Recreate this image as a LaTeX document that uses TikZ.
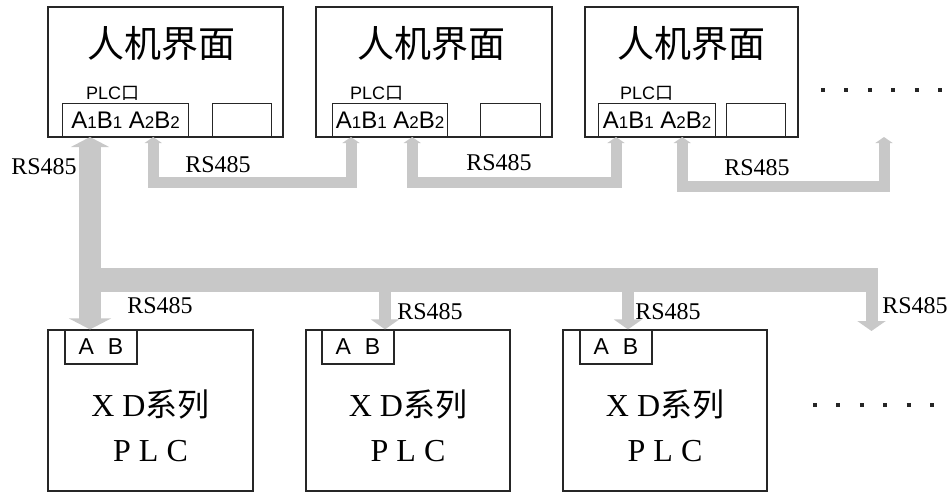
\documentclass[tikz,border=0pt]{standalone}
\usepackage{fontspec}
\setmainfont{Liberation Serif}
\newfontfamily\cjk{Noto Sans CJK SC}
\newfontfamily\arial{Liberation Sans}
\usetikzlibrary{arrows.meta, positioning}
\definecolor{buscol}{RGB}{200,200,200}
\newcommand{\portno}[1]{{\fontsize{17pt}{17pt}\selectfont #1}}

\begin{document}
\begin{tikzpicture}[
  x=1pt, y=-1pt,
  hmi/.style={rectangle, draw=black!85, line width=1.2pt, minimum width=#1, minimum height=130pt, inner sep=0pt},
  port/.style={rectangle, draw=black!85, line width=1.2pt, minimum width=#1, minimum height=33pt, inner sep=0pt, font=\arial\fontsize{24pt}{24pt}\selectfont},
  spare/.style={rectangle, draw=black!85, line width=1.2pt, minimum width=#1, minimum height=33pt, inner sep=0pt},
  plc/.style={rectangle, draw=black!85, line width=1.2pt, minimum width=#1, minimum height=161pt, inner sep=0pt},
  abbox/.style={rectangle, draw=black!85, line width=1.2pt, minimum width=72pt, minimum height=34pt, inner sep=0pt, font=\arial\fontsize{23pt}{23pt}\selectfont},
  title/.style={inner sep=0pt, font=\cjk\fontsize{37pt}{37pt}\selectfont},
  plcport/.style={inner sep=0pt, font=\arial\fontsize{18pt}{18pt}\selectfont},
  plctext/.style={inner sep=0pt, align=center, font=\fontsize{32pt}{45pt}\selectfont},
  rs/.style={inner sep=0pt, font=\fontsize{24pt}{24pt}\selectfont},
  trunk/.style={draw=buscol, line width=22pt, {Triangle[width=38pt,length=10pt]}-{Triangle[width=42pt,length=11pt]}},
  busline/.style={draw=buscol, line width=24pt},
  drop/.style={draw=buscol, line width=12pt, -{Triangle[width=28pt,length=10pt]}},
  link/.style={draw=buscol, line width=11pt, {Triangle[width=17pt,length=6pt]}-{Triangle[width=17pt,length=6pt]}},
  dotrow/.style={draw=black!85, line width=4pt, dash pattern=on 4pt off 19.4pt}
]
  \useasboundingbox (0,0) rectangle (951,493);

  % HMI panels
  \node[hmi=235pt] (hmi1) at (165.5,72) {};
  \node[hmi=236pt] (hmi2) at (434,72) {};
  \node[hmi=213pt] (hmi3) at (691.5,72) {};
  \node[title] (t1) at (161,44) {人机界面};
  \node[title] (t2) at (431,44) {人机界面};
  \node[title] (t3) at (691,44) {人机界面};
  \node[plcport, anchor=west] (l1) at (86,93) {PLC{\cjk 口}};
  \node[plcport, anchor=west] (l2) at (350,93) {PLC{\cjk 口}};
  \node[plcport, anchor=west] (l3) at (620,93) {PLC{\cjk 口}};
  \node[port=126pt, anchor=south west] (p1) at (62,137) {A\portno{1}B\portno{1} A\portno{2}B\portno{2}};
  \node[port=115pt, anchor=south west] (p2) at (332,137) {A\portno{1}B\portno{1} A\portno{2}B\portno{2}};
  \node[port=117pt, anchor=south west] (p3) at (598,137) {A\portno{1}B\portno{1} A\portno{2}B\portno{2}};
  \node[spare=59pt, anchor=south west] (s1) at (212,137) {};
  \node[spare=60pt, anchor=south west] (s2) at (480,137) {};
  \node[spare=59pt, anchor=south west] (s3) at (726,137) {};

  % PLC units
  \node[plc=205pt] (plc1) at (150.5,410.5) {};
  \node[plc=204pt] (plc2) at (408,410.5) {};
  \node[plc=204pt] (plc3) at (665,410.5) {};
  \node[abbox, anchor=north west, xshift=17pt] (ab1) at (plc1.north west) {A\hspace{14pt}B};
  \node[abbox, anchor=north west, xshift=16pt] (ab2) at (plc2.north west) {A\hspace{14pt}B};
  \node[abbox, anchor=north west, xshift=17pt] (ab3) at (plc3.north west) {A\hspace{14pt}B};
  \node[plctext] (x1) at ([yshift=-15pt]plc1.center) {X D{\cjk 系列}\\P L C};
  \node[plctext] (x2) at ([yshift=-15pt]plc2.center) {X D{\cjk 系列}\\P L C};
  \node[plctext] (x3) at ([yshift=-15pt]plc3.center) {X D{\cjk 系列}\\P L C};

  % port points
  \coordinate (a1) at ([xshift=28pt]p1.south west);
  \coordinate (c1) at ([xshift=-36pt]p1.south east);
  \coordinate (a2) at ([xshift=19pt]p2.south west);
  \coordinate (c2) at ([xshift=-36pt]p2.south east);
  \coordinate (a3) at ([xshift=18pt]p3.south west);
  \coordinate (c3) at ([xshift=-34pt]p3.south east);
  \coordinate (c4) at (884,137);

  % RS485 trunk and bus
  \coordinate (j0) at (90,280);
  \coordinate (j4) at (878,280);
  \coordinate (b2) at (385,280);
  \coordinate (b3) at (628,280);
  \coordinate (b4) at (871.5,280);
  \coordinate (e4) at (871.5,331);
  \draw[busline] (j0) -- (j4);
  \draw[trunk] (a1) -- (a1 |- plc1.north);
  \draw[drop] (b2) -- (b2 |- plc2.north);
  \draw[drop] (b3) -- (b3 |- plc3.north);
  \draw[drop] (b4) -- (e4);

  % links between panels
  \draw[link] (c1) -- ++(0,45) -| (a2);
  \draw[link] (c2) -- ++(0,45) -| (a3);
  \draw[link] (c3) -- ++(0,49) -| (c4);

  \node[rs] (r0) at (44,167) {RS485};
  \node[rs] (r1) at (218,165) {RS485};
  \node[rs] (r2) at (499,163) {RS485};
  \node[rs] (r3) at (757,168) {RS485};
  \node[rs] (r4) at (160,306) {RS485};
  \node[rs] (r5) at (430,312) {RS485};
  \node[rs] (r6) at (668,312) {RS485};
  \node[rs] (r7) at (915,306) {RS485};

  % more devices
  \draw[dotrow] (821,90) -- (942,90);
  \draw[dotrow] (813,405) -- (934,405);
\end{tikzpicture}
\end{document}
